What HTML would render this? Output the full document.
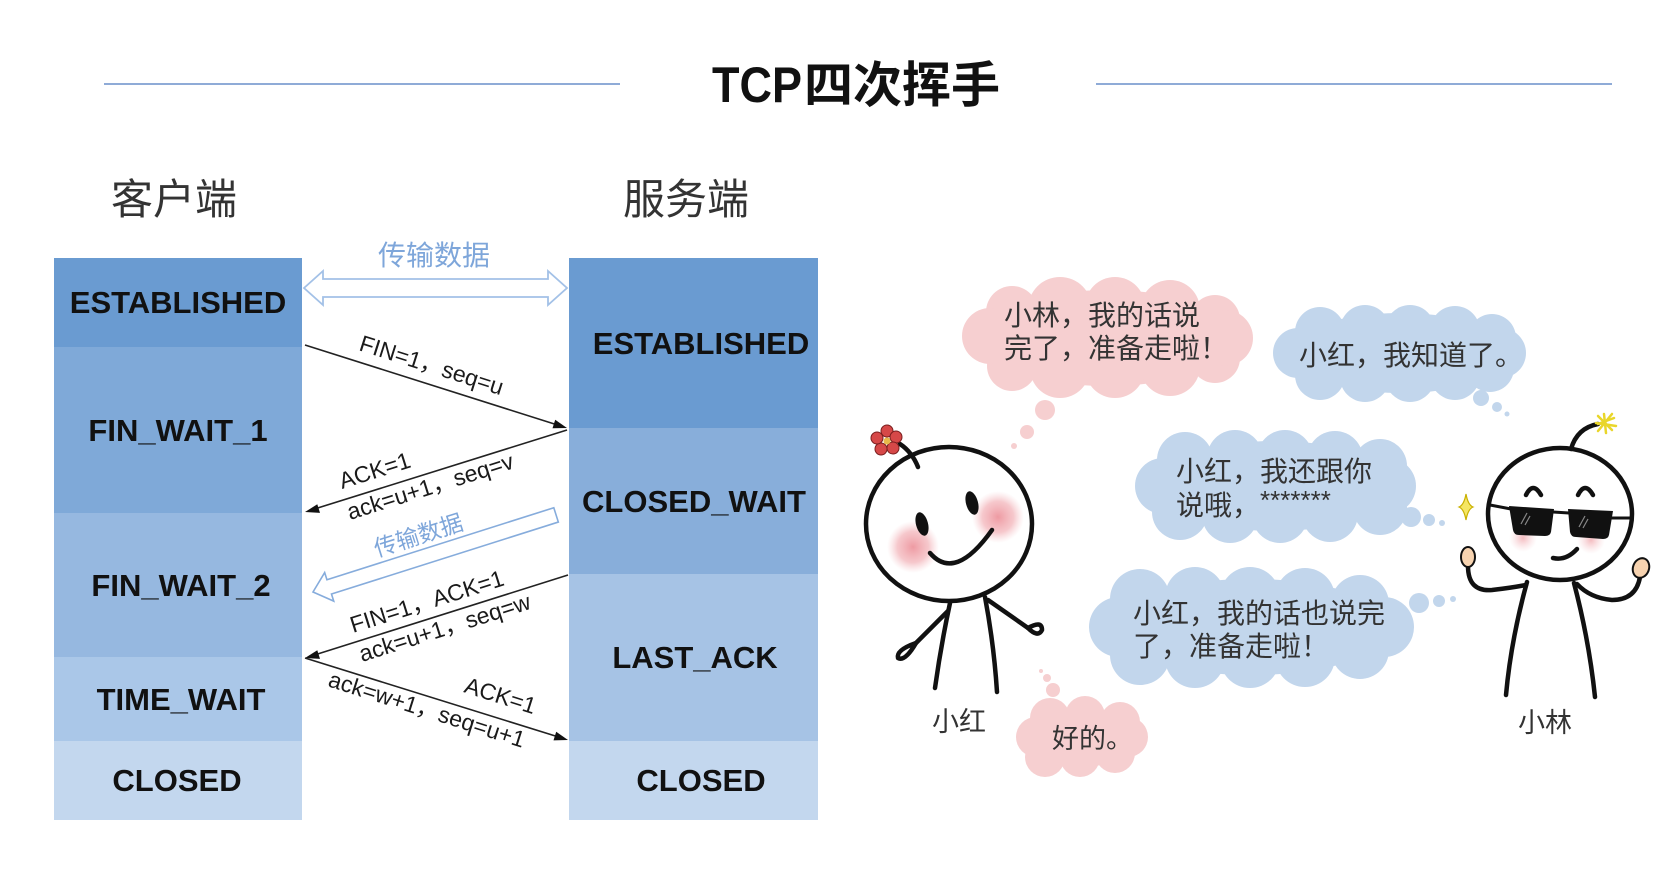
<!DOCTYPE html>
<html><head><meta charset="utf-8">
<style>
html,body{margin:0;padding:0;background:#fff;}
svg{display:block;}
.st{font-family:"Liberation Sans",Arial,sans-serif;font-weight:bold;font-size:31px;fill:#111;}
.lb{font-family:"Liberation Sans","Noto Sans CJK SC",sans-serif;font-size:23px;fill:#1a1a1a;}
.cj{font-family:"Liberation Sans","Noto Sans CJK SC",sans-serif;fill:#333;}
.fig{fill:none;stroke:#111;stroke-width:4.5;stroke-linecap:round;stroke-linejoin:round;}
</style></head>
<body>
<svg width="1676" height="878" viewBox="0 0 1676 878" xmlns="http://www.w3.org/2000/svg">
<defs>
  <radialGradient id="blush" cx="50%" cy="50%" r="50%">
    <stop offset="0%" stop-color="#ec8f98" stop-opacity="0.9"/>
    <stop offset="60%" stop-color="#f0a3aa" stop-opacity="0.6"/>
    <stop offset="100%" stop-color="#f5c0c5" stop-opacity="0"/>
  </radialGradient>
  <radialGradient id="blush2" cx="50%" cy="50%" r="50%">
    <stop offset="0%" stop-color="#f3b3b8" stop-opacity="0.9"/>
    <stop offset="100%" stop-color="#f8d3d6" stop-opacity="0"/>
  </radialGradient>
</defs>

<!-- Title -->
<line x1="104" y1="84" x2="620" y2="84" stroke="#8fabd7" stroke-width="2"/>
<line x1="1096" y1="84" x2="1612" y2="84" stroke="#8fabd7" stroke-width="2"/>
<text x="712" y="102" font-family="Liberation Sans, Arial, sans-serif" font-weight="bold" font-size="50" fill="#111" textLength="90" lengthAdjust="spacingAndGlyphs">TCP</text>
<text x="804" y="102" font-family="'Noto Sans CJK SC', sans-serif" font-weight="bold" font-size="49" fill="#111">四次挥手</text>

<!-- column headers -->
<text class="cj" x="111" y="214" font-size="42" fill="#222">客户端</text>
<text class="cj" x="623" y="214" font-size="42" fill="#222">服务端</text>

<!-- Left block -->
<rect x="54" y="258" width="248" height="89" fill="#6a9bd1"/>
<rect x="54" y="347" width="248" height="166" fill="#7fa9d8"/>
<rect x="54" y="513" width="248" height="144" fill="#96b8e0"/>
<rect x="54" y="657" width="248" height="84" fill="#aac7e8"/>
<rect x="54" y="741" width="248" height="79" fill="#c3d7ee"/>
<text class="st" x="178" y="313" text-anchor="middle">ESTABLISHED</text>
<text class="st" x="178" y="441" text-anchor="middle">FIN_WAIT_1</text>
<text class="st" x="181" y="596" text-anchor="middle">FIN_WAIT_2</text>
<text class="st" x="181" y="710" text-anchor="middle">TIME_WAIT</text>
<text class="st" x="177" y="791" text-anchor="middle">CLOSED</text>

<!-- Right block -->
<rect x="569" y="258" width="249" height="170" fill="#6a9bd1"/>
<rect x="569" y="428" width="249" height="146" fill="#88aeda"/>
<rect x="569" y="574" width="249" height="167" fill="#a6c3e5"/>
<rect x="569" y="741" width="249" height="79" fill="#c3d7ee"/>
<text class="st" x="701" y="354" text-anchor="middle">ESTABLISHED</text>
<text class="st" x="694" y="512" text-anchor="middle">CLOSED_WAIT</text>
<text class="st" x="695" y="668" text-anchor="middle">LAST_ACK</text>
<text class="st" x="701" y="791" text-anchor="middle">CLOSED</text>

<!-- Top data transfer double arrow -->
<text x="378" y="265" font-family="'Noto Sans CJK SC', sans-serif" font-size="28" fill="#7ea6da">传输数据</text>
<path d="M304,288 L323,271 L323,279 L548,279 L548,271 L567,288 L548,305 L548,297 L323,297 L323,305 Z" fill="#fff" stroke="#a3c1e7" stroke-width="1.8" stroke-linejoin="miter"/>

<!-- Arrow 1: FIN -->
<line x1="305" y1="345" x2="556" y2="424.5" stroke="#222" stroke-width="1.6"/>
<polygon points="567,428 552.5,428.3 555.2,419.7" fill="#111"/>
<text class="lb" transform="translate(358,350) rotate(17.58)">FIN=1，seq=u</text>

<!-- Arrow 2: ACK -->
<line x1="567" y1="430" x2="316" y2="508.5" stroke="#222" stroke-width="1.6"/>
<polygon points="305,512 317.3,504.3 320,512.9" fill="#111"/>
<text class="lb" transform="translate(342,489) rotate(-17.5)">ACK=1</text>
<text class="lb" transform="translate(350,520) rotate(-17.5)">ack=u+1，seq=v</text>

<!-- Slanted data transfer hollow arrow -->
<g transform="translate(313,592) rotate(-17.6)">
  <path d="M0,0 L17,-15 L17,-7.5 L255,-7.5 L255,7.5 L17,7.5 L17,15 Z" fill="#fff" stroke="#86acdc" stroke-width="1.6"/>
</g>
<text transform="translate(377,557) rotate(-17.6)" font-family="'Noto Sans CJK SC', sans-serif" font-size="23" fill="#7ea6da">传输数据</text>

<!-- Arrow 4: FIN ACK -->
<line x1="568" y1="575" x2="316" y2="654.5" stroke="#222" stroke-width="1.6"/>
<polygon points="305,658 317.3,650.3 320,658.9" fill="#111"/>
<text class="lb" transform="translate(353,633) rotate(-17.5)">FIN=1，ACK=1</text>
<text class="lb" transform="translate(362,662) rotate(-17.5)">ack=u+1，seq=w</text>

<!-- Arrow 5: ACK -->
<line x1="305" y1="658" x2="557" y2="736.5" stroke="#222" stroke-width="1.6"/>
<polygon points="568,740 553.5,740.4 556.2,731.8" fill="#111"/>
<text class="lb" transform="translate(463,692) rotate(17.6)">ACK=1</text>
<text class="lb" transform="translate(327,686) rotate(17.6)">ack=w+1，seq=u+1</text>

<!-- ================= Cartoon ================= -->

<!-- Cloud 1 pink -->
<g fill="#f6cfd0">
  <ellipse cx="1107" cy="338" rx="128" ry="48"/>
  <circle cx="1012" cy="312" r="26"/>
  <circle cx="1060" cy="309" r="32"/>
  <circle cx="1115" cy="307" r="30"/>
  <circle cx="1170" cy="310" r="30"/>
  <circle cx="1215" cy="320" r="25"/>
  <circle cx="1012" cy="366" r="25"/>
  <circle cx="1060" cy="368" r="30"/>
  <circle cx="1115" cy="368" r="30"/>
  <circle cx="1170" cy="366" r="30"/>
  <circle cx="1215" cy="358" r="25"/>
  <circle cx="990" cy="336" r="28"/>
  <circle cx="1225" cy="338" r="28"/>
  <circle cx="1045" cy="410" r="10"/>
  <circle cx="1027" cy="432" r="7"/>
  <circle cx="1014" cy="446" r="3"/>
</g>
<text class="cj" x="1004" y="325" font-size="28">小林，我的话说</text>
<text class="cj" x="1004" y="358" font-size="28">完了，准备走啦！</text>

<!-- Cloud 2 blue -->
<g fill="#c2d6ec">
  <ellipse cx="1400" cy="353" rx="112" ry="40"/>
  <circle cx="1320" cy="332" r="25"/>
  <circle cx="1365" cy="330" r="25"/>
  <circle cx="1410" cy="330" r="25"/>
  <circle cx="1455" cy="331" r="25"/>
  <circle cx="1492" cy="338" r="24"/>
  <circle cx="1320" cy="375" r="25"/>
  <circle cx="1365" cy="377" r="25"/>
  <circle cx="1410" cy="377" r="25"/>
  <circle cx="1455" cy="375" r="25"/>
  <circle cx="1490" cy="368" r="24"/>
  <circle cx="1298" cy="353" r="25"/>
  <circle cx="1501" cy="353" r="25"/>
  <circle cx="1481" cy="398" r="8"/>
  <circle cx="1497" cy="407" r="5"/>
  <circle cx="1507" cy="414" r="2.5"/>
</g>
<text class="cj" x="1299" y="365" font-size="28">小红，我知道了。</text>

<!-- Cloud 3 blue -->
<g fill="#c2d6ec">
  <ellipse cx="1275" cy="486" rx="122" ry="45"/>
  <circle cx="1185" cy="460" r="28"/>
  <circle cx="1235" cy="458" r="28"/>
  <circle cx="1285" cy="458" r="28"/>
  <circle cx="1335" cy="459" r="28"/>
  <circle cx="1380" cy="466" r="27"/>
  <circle cx="1180" cy="512" r="28"/>
  <circle cx="1230" cy="515" r="28"/>
  <circle cx="1280" cy="515" r="28"/>
  <circle cx="1330" cy="514" r="28"/>
  <circle cx="1380" cy="508" r="27"/>
  <circle cx="1163" cy="486" r="28"/>
  <circle cx="1388" cy="486" r="28"/>
  <circle cx="1411" cy="517" r="10"/>
  <circle cx="1429" cy="520" r="6"/>
  <circle cx="1442" cy="523" r="3"/>
</g>
<text class="cj" x="1176" y="481" font-size="28">小红，我还跟你</text>
<text class="cj" x="1176" y="515" font-size="28">说哦，<tspan font-size="26" dy="-6">*******</tspan></text>

<!-- Cloud 4 blue -->
<g fill="#c2d6ec">
  <ellipse cx="1251" cy="627" rx="142" ry="48"/>
  <circle cx="1140" cy="599" r="30"/>
  <circle cx="1195" cy="597" r="30"/>
  <circle cx="1250" cy="597" r="30"/>
  <circle cx="1305" cy="598" r="30"/>
  <circle cx="1360" cy="604" r="29"/>
  <circle cx="1140" cy="655" r="30"/>
  <circle cx="1195" cy="658" r="30"/>
  <circle cx="1250" cy="658" r="30"/>
  <circle cx="1305" cy="657" r="30"/>
  <circle cx="1360" cy="650" r="29"/>
  <circle cx="1119" cy="627" r="30"/>
  <circle cx="1384" cy="627" r="30"/>
  <circle cx="1419" cy="603" r="10"/>
  <circle cx="1439" cy="601" r="6"/>
  <circle cx="1453" cy="599" r="3"/>
</g>
<text class="cj" x="1133" y="623" font-size="28">小红，我的话也说完</text>
<text class="cj" x="1133" y="656" font-size="28">了，准备走啦！</text>

<!-- Cloud 5 pink -->
<g fill="#f6cfd0">
  <ellipse cx="1081" cy="737" rx="55" ry="30"/>
  <circle cx="1050" cy="718" r="20"/>
  <circle cx="1085" cy="716" r="20"/>
  <circle cx="1120" cy="722" r="20"/>
  <circle cx="1045" cy="757" r="20"/>
  <circle cx="1080" cy="757" r="20"/>
  <circle cx="1115" cy="753" r="20"/>
  <circle cx="1036" cy="737" r="20"/>
  <circle cx="1128" cy="737" r="20"/>
  <circle cx="1053" cy="690" r="7"/>
  <circle cx="1047" cy="678" r="4"/>
  <circle cx="1041" cy="671" r="2"/>
</g>
<text class="cj" x="1052" y="748" font-size="27">好的。</text>

<!-- Xiaohong -->
<circle cx="913" cy="547" r="26" fill="url(#blush)"/>
<circle cx="998" cy="517" r="26" fill="url(#blush)"/>
<ellipse class="fig" cx="949" cy="524" rx="83" ry="77"/>
<ellipse cx="922" cy="524" rx="6" ry="12" transform="rotate(-15 922 524)" fill="#111"/>
<ellipse cx="972" cy="503" rx="6" ry="12" transform="rotate(-15 972 503)" fill="#111"/>
<path class="fig" d="M930,553 Q955,582 992,530"/>
<path class="fig" d="M900,444 Q912,452 918,467" stroke-width="3"/>
<g fill="#d64848" stroke="#7a1f1f" stroke-width="1">
  <circle cx="887" cy="431" r="6"/>
  <circle cx="896" cy="437" r="6"/>
  <circle cx="893" cy="448" r="6"/>
  <circle cx="881" cy="449" r="6"/>
  <circle cx="877" cy="438" r="6"/>
</g>
<circle cx="887" cy="441" r="3.5" fill="#e8b84a"/>
<path class="fig" d="M950,603 Q941,645 935,688"/>
<path class="fig" d="M985,597 Q994,645 997,692"/>
<path class="fig" d="M948,611 L916,643"/>
<path class="fig" d="M916,643 Q896,650 898,658 Q905,662 916,643" stroke-width="3.5"/>
<path class="fig" d="M988,600 L1028,628"/>
<path class="fig" d="M1028,628 Q1042,620 1042,630 Q1038,638 1028,628" stroke-width="3.5"/>
<text class="cj" x="932" y="731" font-size="27">小红</text>

<!-- Xiaolin -->
<circle cx="1523" cy="538" r="14" fill="url(#blush2)"/>
<circle cx="1591" cy="540" r="14" fill="url(#blush2)"/>
<ellipse class="fig" cx="1560" cy="514" rx="72" ry="66"/>
<path class="fig" d="M1571,449 Q1577,428 1598,424" stroke-width="3"/>
<g stroke="#e9d62a" stroke-width="2.5" stroke-linecap="round">
  <line x1="1598" y1="424" x2="1614" y2="418"/>
  <line x1="1604" y1="414" x2="1606" y2="433"/>
  <line x1="1598" y1="416" x2="1612" y2="430"/>
  <line x1="1612" y1="414" x2="1598" y2="431"/>
  <line x1="1596" y1="423" x2="1616" y2="426"/>
</g>
<path class="fig" d="M1526,495 Q1533,481 1541,495" stroke-width="3"/>
<path class="fig" d="M1578,495 Q1585,481 1593,495" stroke-width="3"/>
<path d="M1509,506 L1554,509 L1551,532 Q1550,536 1545,536 L1519,535 Q1514,535 1513,530 Z" fill="#111"/>
<path d="M1568,509 L1613,511 L1609,535 Q1608,539 1603,539 L1576,537 Q1571,537 1570,532 Z" fill="#111"/>
<line x1="1553" y1="512" x2="1569" y2="513" stroke="#111" stroke-width="3"/>
<line x1="1490" y1="505" x2="1511" y2="509" stroke="#111" stroke-width="3"/>
<line x1="1611" y1="518" x2="1632" y2="518" stroke="#111" stroke-width="3"/>
<g stroke="#888" stroke-width="1.2">
  <line x1="1521" y1="524" x2="1527" y2="513"/>
  <line x1="1525" y1="525" x2="1530" y2="516"/>
  <line x1="1579" y1="527" x2="1585" y2="516"/>
  <line x1="1583" y1="528" x2="1588" y2="519"/>
</g>
<path class="fig" d="M1553,558 Q1566,561 1577,549" stroke-width="3.5"/>
<path d="M1466,494 Q1468,505 1473,507 Q1468,509 1466,520 Q1464,509 1459,507 Q1464,505 1466,494 Z" fill="#f5e663" stroke="#c9b000" stroke-width="1.2"/>
<path class="fig" d="M1468,566 Q1468,592 1492,590 Q1510,588 1526,585" stroke-width="4"/>
<path class="fig" d="M1640,577 Q1636,600 1612,600 Q1590,598 1577,584" stroke-width="4"/>
<ellipse cx="1468" cy="557" rx="7" ry="10" fill="#f7d3b0" stroke="#111" stroke-width="2"/>
<ellipse cx="1641" cy="568" rx="8" ry="10" transform="rotate(20 1641 568)" fill="#f7d3b0" stroke="#111" stroke-width="2"/>
<path class="fig" d="M1527,582 Q1511,640 1506,695"/>
<path class="fig" d="M1574,583 Q1589,640 1595,697"/>
<text class="cj" x="1518" y="732" font-size="27">小林</text>
</svg>
</body></html>
